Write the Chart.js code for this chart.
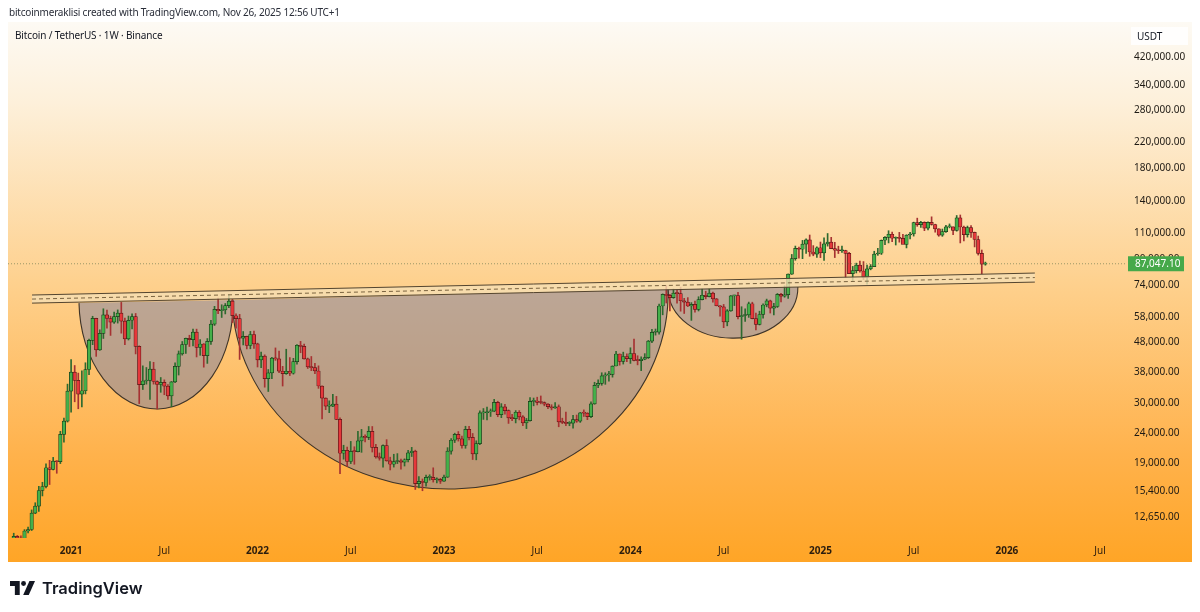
<!DOCTYPE html>
<html>
<head>
<meta charset="utf-8">
<title>BTCUSDT 1W</title>
<script src="https://cdn.jsdelivr.net/npm/chart.js@4.4.1/dist/chart.umd.min.js"></script>
<style>
  html, body { margin: 0; padding: 0; background: #fff; }
  body { width: 1200px; height: 612px; position: relative; overflow: hidden; font-family: "Noto Sans", sans-serif; color: #131722; }
  #chart { position: absolute; left: 0; top: 0; }
  .header { position: absolute; left: 9px; top: 5px; font-size: 10px; letter-spacing: -0.2px; color: #2a2e39; white-space: nowrap; }
  .symbol { position: absolute; left: 15px; top: 28px; font-size: 10px; letter-spacing: -0.15px; color: #131722; white-space: nowrap; }
  .unit { position: absolute; left: 1131px; top: 27px; width: 57px; height: 18px; background: rgba(255,255,255,0.85);
          font-size: 10px; line-height: 18px; padding-left: 6px; box-sizing: border-box; }
  .footer { position: absolute; left: 10px; top: 578px; display: flex; align-items: center; }
  .footer span { font-family: Inter, sans-serif; font-weight: 600; font-size: 16.5px; margin-left: 7px; color: #131722; }
</style>
</head>
<body>
<canvas id="chart" width="1200" height="612"></canvas>
<div class="header">bitcoinmeraklisi created with TradingView.com, Nov 26, 2025 12:56 UTC+1</div>
<div class="symbol">Bitcoin / TetherUS · 1W · Binance</div>
<div class="unit">USDT</div>
<div class="footer">
  <svg width="25" height="14" viewBox="0 0 36 20">
    <path d="M0 0h14v20H7V7H0z" fill="#131722"/>
    <circle cx="19.5" cy="3.5" r="3.5" fill="#131722"/>
    <path d="M28 0h8L27 20h-8z" fill="#131722"/>
  </svg>
  <span>TradingView</span>
</div>
<script>
// weekly candles, first week = 14 Sep 2020 (index 0), last = 24 Nov 2025
const firstOpen = 10330;
const closes = [
  10920, 10770, 10670, 11370, 11500, 13030, 13740, 15480,   // Sep 2020
  15960, 18410, 18180, 19360, 19270, 23730, 26240, 33000,   // Nov 2020
  38150, 35800, 32260, 33090, 38900, 48580, 57400, 45140,   // Jan 2021
  51200, 59000, 57350, 55800, 58200, 59800, 56200, 49100,   // Mar 2021
  56600, 58200, 46400, 34650, 35650, 35800, 39000, 35500,   // Apr 2021
  34700, 35300, 34250, 31800, 35400, 39850, 43800, 47050,   // Jun 2021
  49300, 48850, 51750, 46050, 47250, 43200, 48200, 54950,   // Aug 2021
  61500, 60850, 61300, 63300, 65500, 58600, 57300, 49400,   // Oct 2021
  50100, 46700, 50800, 47300, 41850, 43100, 36280, 37900,   // Dec 2021
  42400, 42200, 38400, 37700, 38400, 37800, 41300, 46800,   // Jan 2022
  46400, 42200, 39700, 39450, 38470, 34300, 31300, 29450,   // Mar 2022
  29450, 29900, 26600, 20550, 21000, 19300, 20850, 20800,   // May 2022
  22600, 23300, 23200, 24300, 21500, 20000, 19800, 21800,   // Jul 2022
  19400, 18900, 19300, 19400, 19200, 19570, 20630, 20900,   // Sep 2022
  16300, 16600, 16450, 17100, 17100, 16800, 16850, 16620,   // Nov 2022
  17130, 20880, 22700, 23750, 22950, 21800, 24650, 23200,   // Jan 2023
  20450, 22130, 27950, 27980, 28170, 28330, 30300, 27600,   // Feb 2023
  29250, 28440, 26900, 26750, 28100, 27120, 25900, 26350,   // Apr 2023
  30500, 30600, 30300, 30250, 29900, 29300, 29050, 29300,   // Jun 2023
  26100, 26000, 25800, 25850, 26550, 26250, 27950, 27900,   // Aug 2023
  27150, 29950, 34500, 35000, 37050, 37350, 37450, 39950,   // Oct 2023
  43780, 41350, 42950, 42280, 43950, 41700, 41600, 42100,   // Dec 2023
  42600, 48300, 51650, 51700, 63100, 68950, 68400, 67200,   // Jan 2024
  69650, 69350, 65650, 64950, 63100, 63900, 61500, 66250,   // Mar 2024
  68500, 67750, 69650, 66650, 63200, 62700, 55900, 60800,   // May 2024
  68150, 68250, 58150, 58700, 58950, 64200, 57300, 54850,   // Jul 2024
  59150, 63600, 65600, 62100, 62850, 69000, 68000, 68750,   // Sep 2024
  80400, 90500, 97900, 97200, 101100, 104450, 95200, 93700, // Nov 2024
  98350, 94500, 101300, 102600, 97700, 96450, 96100, 96250, // Dec 2024
  94250, 80700, 82600, 86100, 82400, 78400, 83750, 85200,   // Feb 2025
  93750, 94300, 104100, 106450, 109000, 105700, 105700, 105600, // Apr 2025
  100950, 108350, 109200, 119100, 117300, 119400, 114200, 119300, // Jun 2025
  117400, 113500, 108250, 111150, 115250, 115250, 112150, 123500, // Aug 2025
  115150, 108650, 114550, 110550, 104700, 94200, 86800, 87047.1   // Oct 2025
];
const highs = [
  11180, 10990, 10960, 11490, 11720, 13350, 14100, 15970,
  16480, 18960, 19480, 19920, 19420, 24300, 26870, 34800,
  41950, 40100, 37850, 38530, 40950, 49000, 58350, 57500,
  52640, 61780, 61200, 58400, 60200, 61250, 64850, 57500,
  58450, 59500, 59600, 46600, 40000, 39500, 41300, 41100,
  35700, 36600, 35950, 34680, 35500, 40900, 44800, 48150,
  49400, 50500, 52950, 52900, 48850, 47400, 49250, 56550,
  62950, 67000, 63700, 64300, 69000, 66340, 59400, 59200,
  51950, 50150, 52000, 52100, 47550, 44450, 43500, 38900,
  42650, 45850, 44750, 39850, 45400, 42600, 42350, 47000,
  48200, 47200, 42450, 42950, 40800, 40000, 34350, 31350,
  30650, 32200, 31700, 26900, 21850, 21550, 22500, 21600,
  24300, 24650, 23650, 25200, 25200, 22000, 20600, 21900,
  22800, 19950, 20400, 20500, 19650, 19700, 21000, 21500,
  21050, 17200, 16900, 17400, 17450, 18400, 17050, 16980,
  17400, 21450, 23000, 23950, 24250, 23450, 25250, 25250,
  23900, 22600, 28400, 28900, 29200, 28800, 31000, 30550,
  30000, 29850, 28600, 27650, 28450, 28450, 27400, 26800,
  31400, 31300, 31500, 31800, 30400, 29990, 29750, 30250,
  29700, 26850, 28150, 26150, 27450, 27500, 28050, 28600,
  27990, 30400, 35300, 35950, 37950, 37950, 38400, 40000,
  44700, 43800, 44400, 43800, 45900, 49050, 43200, 42850,
  43900, 48550, 52800, 52950, 64000, 69200, 73800, 68950,
  71800, 71350, 72800, 66900, 67250, 64750, 65500, 67700,
  71950, 70600, 71950, 70200, 66800, 63350, 63850, 61400,
  68350, 68500, 70050, 62750, 61800, 65000, 64950, 59800,
  60650, 64150, 66500, 66000, 64450, 69400, 69500, 73600,
  80550, 93450, 99600, 98850, 104000, 105250, 108350, 99950,
  98950, 102700, 106000, 109600, 106450, 102500, 99500, 99500,
  96500, 95000, 85300, 87450, 88800, 88500, 86100, 86500,
  95750, 97900, 104350, 107100, 111950, 110700, 106800, 110550,
  108950, 108550, 110550, 119500, 123200, 120250, 119800, 119700,
  124450, 117650, 113650, 113400, 116650, 117900, 115400, 125700,
  126200, 115950, 116000, 116400, 110800, 107500, 96650, 88150
];
const lows = [
  10270, 10130, 10370, 10530, 11200, 11410, 12970, 13200,
  14850, 15790, 16200, 18100, 17650, 19000, 22350, 26070,
  28130, 30420, 28850, 29240, 32300, 37400, 47000, 43000,
  45000, 49270, 53250, 50430, 55300, 55400, 51300, 47000,
  48700, 53000, 43800, 30000, 33400, 34800, 31000, 34800,
  28800, 32700, 32100, 31000, 29300, 35200, 37300, 43400,
  43950, 46350, 46550, 42800, 43350, 39600, 40750, 47100,
  54400, 59500, 57820, 59400, 62300, 55600, 53250, 42000,
  46900, 45500, 45550, 45700, 39650, 39450, 34000, 32900,
  36300, 41700, 38000, 34300, 37500, 37150, 37550, 40500,
  44200, 42100, 39200, 38550, 37700, 33700, 26700, 28650,
  28000, 29300, 26550, 17600, 19650, 18600, 19000, 18900,
  20750, 20700, 22400, 22800, 20750, 19800, 19500, 18500,
  19350, 18100, 18500, 19000, 18200, 18650, 19250, 20050,
  15600, 15800, 15450, 16000, 16750, 16500, 16400, 16330,
  16600, 17100, 20400, 22300, 22550, 21350, 21350, 22750,
  19600, 19550, 21950, 26600, 26500, 27200, 28200, 27150,
  26950, 27700, 25800, 26350, 25900, 26500, 25350, 24800,
  26250, 29500, 29700, 29950, 29500, 28850, 28600, 28950,
  25150, 25750, 25350, 25350, 24900, 26000, 26000, 27200,
  26550, 26950, 29850, 33900, 34500, 34750, 35600, 36700,
  39950, 40200, 40550, 41300, 40750, 41500, 40300, 38550,
  41900, 42300, 47750, 50550, 50900, 59000, 64550, 60750,
  66900, 64500, 60650, 59600, 62800, 56550, 60200, 60750,
  66100, 66600, 67600, 64950, 63150, 58400, 53500, 54250,
  60600, 63300, 57150, 49000, 56150, 57850, 57200, 52550,
  54600, 57500, 62700, 59800, 58900, 62400, 65050, 67450,
  66850, 80250, 89400, 90800, 90500, 94150, 92150, 92500,
  91350, 91200, 89250, 99550, 97600, 91250, 94100, 94850,
  78250, 81500, 76600, 81150, 81600, 77150, 74500, 83100,
  85150, 92800, 93400, 100700, 102000, 103050, 100400, 102600,
  102300, 98200, 105150, 107450, 115750, 114700, 112000, 112650,
  116800, 110700, 107300, 107250, 110600, 114400, 108600, 111550,
  102000, 103550, 106650, 106300, 98950, 93000, 80600, 86100
];
const lastPrice = 87047.10;

// time axis: week index of the first bar of each period
const xTickWeeks = [16, 42, 68, 94, 120, 146, 172, 198, 225, 251, 277, 303];
const xTickLabels = ["2021", "Jul", "2022", "Jul", "2023", "Jul", "2024", "Jul", "2025", "Jul", "2026", "Jul"];
const yTickValues = [12650, 15400, 19000, 24000, 30000, 38000, 48000, 58000, 74000, 90000,
                     110000, 140000, 180000, 220000, 280000, 340000, 420000];

// drawings, in [week index, price]
const channelTop = [[5.1, 68600], [284.8, 81100]];
const channelBottom = [[5.1, 64500], [284.8, 75700]];
// cup & handle arcs: [start week, start price, end week, end price, lowest price]
const cupArcs = [
  [18.2, 64500, 61.2, 66100, 28800],
  [60.9, 66100, 182.5, 71800, 15650],
  [182.5, 71800, 218.7, 72900, 49400]
];

const opens = closes.map((c, i) => i === 0 ? firstOpen : closes[i - 1]);
const up = closes.map((c, i) => c >= opens[i]);

const fmt = v => v.toLocaleString("en-US", { minimumFractionDigits: 2, maximumFractionDigits: 2 });

// fond dégradé derrière le graphique et les axes
const backgroundPlugin = {
  id: "background",
  beforeDraw(chart) {
    const { ctx, chartArea, scales } = chart;
    const top = chartArea.top, bottom = scales.x.bottom;
    const g = ctx.createLinearGradient(0, top, 0, bottom);
    g.addColorStop(0, "#fdfaf4");
    g.addColorStop(0.15, "#fdf0da");
    g.addColorStop(0.5, "#fecf8a");
    g.addColorStop(0.8, "#ffb24c");
    g.addColorStop(1, "#ffa526");
    ctx.save();
    ctx.fillStyle = g;
    ctx.fillRect(chartArea.left, top, scales.y.right - chartArea.left, bottom - top);
    ctx.restore();
  }
};

// tracés : cuvettes (sous les bougies), canal et ligne du dernier prix (dessus)
const drawingsPlugin = {
  id: "drawings",
  beforeDatasetsDraw(chart) {
    const { ctx, chartArea, scales: { x, y } } = chart;
    const px = (w, p) => [x.getPixelForValue(w), y.getPixelForValue(p)];
    ctx.save();
    ctx.beginPath();
    ctx.rect(chartArea.left, chartArea.top, chartArea.width, chartArea.height);
    ctx.clip();
    cupArcs.forEach(a => {
      const [x1, y1] = px(a[0], a[1]);
      const [x2, y2] = px(a[2], a[3]);
      const yb = y.getPixelForValue(a[4]);
      const cx = (x1 + x2) / 2, cy = (y1 + y2) / 2;
      const rx = Math.hypot(x2 - x1, y2 - y1) / 2;
      const ry = yb - cy;
      const rot = Math.atan2(y2 - y1, x2 - x1);
      ctx.beginPath();
      ctx.ellipse(cx, cy, rx, ry, rot, 0, Math.PI);
      ctx.closePath();
      ctx.fillStyle = "rgba(122, 126, 162, 0.5)";
      ctx.fill();
      ctx.beginPath();
      ctx.ellipse(cx, cy, rx, ry, rot, 0, Math.PI);
      ctx.strokeStyle = "#3f3428";
      ctx.lineWidth = 1.1;
      ctx.stroke();
    });
    ctx.restore();
  },
  afterDatasetsDraw(chart) {
    const { ctx, chartArea, scales: { x, y } } = chart;
    const px = (w, p) => [x.getPixelForValue(w), y.getPixelForValue(p)];
    ctx.save();
    ctx.beginPath();
    ctx.rect(chartArea.left, chartArea.top, chartArea.width, chartArea.height);
    ctx.clip();

    const t1 = px(...channelTop[0]), t2 = px(...channelTop[1]);
    const b1 = px(...channelBottom[0]), b2 = px(...channelBottom[1]);
    ctx.beginPath();
    ctx.moveTo(...t1); ctx.lineTo(...t2); ctx.lineTo(...b2); ctx.lineTo(...b1);
    ctx.closePath();
    ctx.fillStyle = "rgba(245, 222, 180, 0.8)";
    ctx.fill();
    ctx.strokeStyle = "#54452f";
    ctx.lineWidth = 1;
    ctx.beginPath(); ctx.moveTo(...t1); ctx.lineTo(...t2); ctx.stroke();
    ctx.beginPath(); ctx.moveTo(...b1); ctx.lineTo(...b2); ctx.stroke();
    ctx.setLineDash([4, 3]);
    ctx.strokeStyle = "#7a633f";
    ctx.beginPath();
    ctx.moveTo(t1[0], (t1[1] + b1[1]) / 2);
    ctx.lineTo(t2[0], (t2[1] + b2[1]) / 2);
    ctx.stroke();

    const yp = y.getPixelForValue(lastPrice);
    ctx.setLineDash([1, 2]);
    ctx.strokeStyle = "rgba(90, 110, 70, 0.6)";
    ctx.beginPath();
    ctx.moveTo(chartArea.left, yp);
    ctx.lineTo(chartArea.right, yp);
    ctx.stroke();
    ctx.restore();
  },
  afterDraw(chart) {
    const { ctx, scales: { y } } = chart;
    const yp = y.getPixelForValue(lastPrice);
    ctx.save();
    ctx.fillStyle = "#46a94a";
    ctx.fillRect(y.left + 1, yp - 7.5, 56, 15);
    ctx.fillStyle = "#ffffff";
    ctx.font = '10px "Noto Sans"';
    ctx.textBaseline = "middle";
    ctx.fillText(fmt(lastPrice), y.left + 8, yp + 0.5);
    ctx.restore();
  }
};

const ctx = document.getElementById("chart").getContext("2d");
new Chart(ctx, {
  type: "bar",
  data: {
    datasets: [
      {
        label: "wicks",
        data: closes.map((c, i) => ({ x: i, y: [lows[i], highs[i]] })),
        backgroundColor: up.map(u => u ? "#2d6a2f" : "#a63232"),
        barThickness: 1,
        grouped: false,
        order: 2
      },
      {
        label: "bodies",
        data: closes.map((c, i) => ({ x: i, y: [opens[i], c] })),
        backgroundColor: up.map(u => u ? "#45b04a" : "#e5383b"),
        borderColor: up.map(u => u ? "#173a18" : "#541515"),
        borderWidth: 0.7,
        borderSkipped: false,
        barThickness: 3.5,
        minBarLength: 1,
        grouped: false,
        order: 1
      }
    ]
  },
  options: {
    responsive: false,
    animation: false,
    devicePixelRatio: 1,
    layout: { padding: { left: 8, top: 22, right: 8, bottom: 50 } },
    plugins: { legend: { display: false }, tooltip: { enabled: false } },
    scales: {
      x: {
        type: "linear",
        min: -1.6,
        max: 310.5,
        offset: false,
        grid: { display: false, drawTicks: false },
        border: { display: false },
        afterBuildTicks: s => { s.ticks = xTickWeeks.map(v => ({ value: v })); },
        afterFit: s => { s.height = 24; },
        ticks: {
          autoSkip: false,
          maxRotation: 0,
          padding: 7,
          color: "#2b1d0e",
          font: c => ({ family: "Noto Sans", size: 10, weight: c.tick && /^\d/.test(c.tick.label) ? "bold" : "normal" }),
          callback: v => xTickLabels[xTickWeeks.indexOf(v)]
        }
      },
      y: {
        type: "logarithmic",
        position: "right",
        min: 10780,
        max: 548800,
        grid: { display: false, drawTicks: false },
        border: { display: false },
        afterBuildTicks: s => { s.ticks = yTickValues.map(v => ({ value: v })); },
        afterFit: s => { s.width = 65; },
        ticks: {
          autoSkip: false,
          crossAlign: "near",
          padding: 7,
          color: "#1e1a14",
          font: { family: "Noto Sans", size: 10 },
          callback: v => fmt(v)
        }
      }
    }
  },
  plugins: [backgroundPlugin, drawingsPlugin]
});
</script>
</body>
</html>
